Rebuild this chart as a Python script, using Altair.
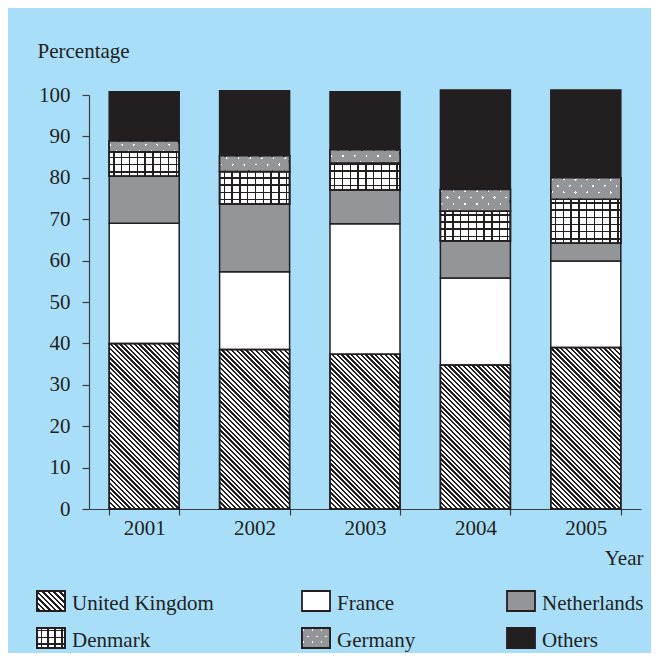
import math
import altair as alt
import pandas as pd

# ---------------- data ----------------
years = ["2001", "2002", "2003", "2004", "2005"]
countries = ["United Kingdom", "France", "Netherlands", "Denmark", "Germany", "Others"]
united_kingdom = [40.0, 38.5, 37.4, 34.8, 39.0]
france = [29.0, 18.8, 31.5, 21.0, 20.9]
netherlands = [11.4, 16.4, 8.2, 9.0, 4.3]
denmark = [5.9, 7.8, 6.5, 7.2, 10.6]
germany = [2.6, 3.8, 3.2, 5.2, 5.2]
others = [11.9, 15.7, 14.0, 24.0, 21.2]
y_ticks = [0, 10, 20, 30, 40, 50, 60, 70, 80, 90, 100]

series = [united_kingdom, france, netherlands, denmark, germany, others]
rows = []
for ci, (c, vals) in enumerate(zip(countries, series)):
    for y, v in zip(years, vals):
        rows.append({"year": y, "country": c, "value": v, "order": ci})
df = pd.DataFrame(rows)
legend_df = pd.DataFrame({"country": countries})

# ---------------- style ----------------
FONT = "Liberation Serif, Times New Roman, serif"
FS = 21
DARK = "#231f20"
AXC = "#3c3c3c"
GRAY = "#939598"
WHITE = "#ffffff"
BG = "#a8def8"
TR = "rgba(0,0,0,0)"
W, H = 552, 414
P_IN, P_OUT = 0.366, 0.183
STEP = W / (len(years) - P_IN + 2 * P_OUT)
BAR_W = STEP * (1 - P_IN)
PX = H / 100.0


def stripe_stops(n, frac, line, bg, phase):
    stops = []
    k = -2
    while True:
        a = (k + phase) / n
        if a > 1:
            break
        b = (k + phase + frac) / n
        c = (k + 1 + phase) / n
        for s, e, col in ((a, b, line), (b, c, bg)):
            s2, e2 = max(s, 0.0), min(e, 1.0)
            if e2 > s2:
                stops.append({"offset": round(s2, 5), "color": col})
                stops.append({"offset": round(e2, 5), "color": col})
        k += 1
    return stops


def line_gradient(w, h, d, period, frac, line, bg, phase=0.0):
    """Stripes along pixel direction d for a box of w x h (bbox-unit gradient)."""
    dxp, dyp = d
    ux, uy = dxp / w, dyp / h
    vx, vy = uy, -ux
    corners = [(0, 0), (1, 0), (0, 1), (1, 1)]
    proj = [cx * vx + cy * vy for cx, cy in corners]
    i0 = min(range(4), key=lambda i: proj[i])
    k = (max(proj) - min(proj)) / (vx * vx + vy * vy)
    x1, y1 = corners[i0]
    x2, y2 = x1 + vx * k, y1 + vy * k
    nl = math.hypot(dxp, dyp)
    nx, ny = -dyp / nl, dxp / nl
    pp = [cx * w * nx + cy * h * ny for cx, cy in corners]
    n = (max(pp) - min(pp)) / period
    return {"gradient": "linear", "x1": round(x1, 5), "y1": round(y1, 5),
            "x2": round(x2, 5), "y2": round(y2, 5),
            "stops": stripe_stops(n, frac, line, bg, phase)}


def dot_dirs(s, gap):
    return (s / 2, -gap), (s / 2, gap), s * gap / math.hypot(s / 2, gap)


# pattern recipes: (direction, period, frac, line colour, background colour, phase)
def uk_parts(scale):
    return [((1, 1), 3.4 * scale, 0.48, DARK, TR, 0.3)]


def dk_parts(pv, ph):
    return [((0, 1), pv, 0.18, DARK, TR, 0.5), ((1, 0), ph, 0.2, DARK, TR, 0.5)]


def de_parts(s, gap):
    da, db, per = dot_dirs(s, gap)
    return [(da, per, 0.2, WHITE, TR, 0.3), (db, per, 0.2, TR, GRAY, 0.55)]


main_parts = {
    "United Kingdom": uk_parts(1.0),
    "Denmark": dk_parts(7.8, 7.2),
    "Germany": de_parts(11.7, 6.5),
}
legend_parts = {
    "United Kingdom": uk_parts(1.15),
    "Denmark": dk_parts(7.0, 6.7),
    "Germany": de_parts(9.0, 6.0),
}
base_colors = [WHITE, WHITE, GRAY, WHITE, GRAY, DARK]

# ---------------- axes & encodings ----------------
x_axis = alt.Axis(title="Year", labelAngle=0, labelFont=FONT, labelFontSize=FS,
                  labelColor=DARK, labelPadding=2, tickSize=6, tickColor=AXC,
                  tickWidth=1.2, domainColor=AXC, domainWidth=1.2, tickBand="extent",
                  grid=False, titleFont=FONT, titleFontSize=FS, titleFontWeight="normal",
                  titleColor=DARK, titleX=554, titleY=55, titleAlign="right",
                  titleBaseline="alphabetic", titleAngle=0)
y_axis = alt.Axis(title="Percentage", values=y_ticks, labelFont=FONT, labelFontSize=FS,
                  labelColor=DARK, labelPadding=12, tickSize=7, tickColor=AXC,
                  tickWidth=1.2, domainColor=AXC, domainWidth=1.2, grid=False,
                  titleFont=FONT, titleFontSize=FS, titleFontWeight="normal",
                  titleColor=DARK, titleX=-52, titleY=-38, titleAlign="left",
                  titleBaseline="alphabetic", titleAngle=0)

X = alt.X("year:N", sort=years, scale=alt.Scale(paddingInner=P_IN, paddingOuter=P_OUT), axis=x_axis)
Y = alt.Y("lo:Q", scale=alt.Scale(domain=[0, 100], nice=False), axis=y_axis)
Y2 = alt.Y2("hi:Q")

base = alt.Chart(df).transform_stack(
    stack="value", groupby=["year"], as_=["lo", "hi"],
    sort=[alt.SortField("order", order="ascending")])

layers = [
    base.mark_bar(stroke=DARK, strokeWidth=1.5).encode(
        x=X, y=Y, y2=Y2,
        fill=alt.Fill("country:N", scale=alt.Scale(domain=countries, range=base_colors), legend=None))
]

for cname, parts in main_parts.items():
    vals = series[countries.index(cname)]
    for (d, per, frac, lc, bc, ph) in parts:
        conds = []
        for yr, v in zip(years, vals):
            g = line_gradient(BAR_W, v * PX, d, per, frac, lc, bc, ph)
            conds.append({"test": f"datum.year == '{yr}'", "value": g})
        layers.append(
            base.transform_filter(alt.datum.country == cname)
            .mark_bar(stroke=DARK, strokeWidth=1.5)
            .encode(x=X, y=Y, y2=Y2, fill={"condition": conds, "value": TR})
        )

# ---------------- legend (drawn as marks below the plot) ----------------
LEG_COL_X = [-52, 213, 418]
LEG_TEXT_X = [-17, 248, 453]
LEG_ROW_Y = [496, 533]
LEG_TEXT_Y = [515, 552]
SW_W, SW_H = 28, 20

for i, cname in enumerate(countries):
    col, row = i % 3, i // 3
    x0, y0 = LEG_COL_X[col], LEG_ROW_Y[row]
    pos = dict(x=alt.value(x0), x2=alt.value(x0 + SW_W), y=alt.value(y0), y2=alt.value(y0 + SW_H))
    src = alt.Chart(legend_df).transform_filter(alt.datum.country == cname)
    layers.append(src.mark_rect(fill=base_colors[i], stroke=DARK, strokeWidth=1.8).encode(**pos))
    for (d, per, frac, lc, bc, ph) in legend_parts.get(cname, []):
        g = line_gradient(SW_W, SW_H, d, per, frac, lc, bc, ph)
        layers.append(src.mark_rect(fill=g, stroke=DARK, strokeWidth=1.8).encode(**pos))
    layers.append(
        src.mark_text(align="left", baseline="alphabetic", font=FONT, fontSize=FS, color=DARK)
        .encode(text="country:N", x=alt.value(LEG_TEXT_X[col]), y=alt.value(LEG_TEXT_Y[row]))
    )

chart = alt.layer(*layers).properties(
    width=W, height=H, background=BG,
    autosize=alt.AutoSizeParams(type="none"),
    padding={"left": 81, "top": 87, "right": 10, "bottom": 144},
).configure_view(strokeWidth=0)

chart.save("out.html", embed_options={"renderer": "svg", "actions": False})
